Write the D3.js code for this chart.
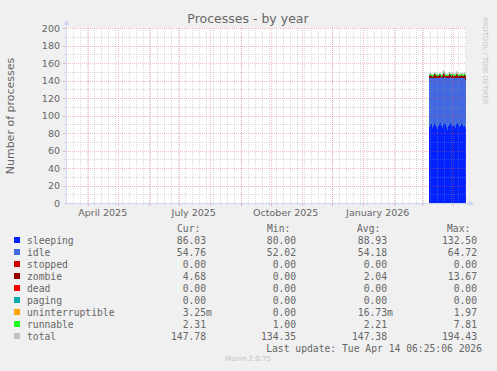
<!DOCTYPE html>
<html><head><meta charset="utf-8">
<script src="https://cdn.jsdelivr.net/npm/d3@7"></script>
<style>body{margin:0;background:#f0f0f0;overflow:hidden} svg{display:block}</style>
</head><body><svg id="c" width="497" height="371"></svg>
<script>
// ---- data ----
const seriesKeys = ["sleeping","idle","stopped","zombie","dead","paging","uninterruptible","runnable"];
const seriesColors = ["#0022ff","#4169e1","#cc0000","#990000","#ff0000","#00aaaa","#ffa500","#22ff22"];
const legendNames = ["sleeping","idle","stopped","zombie","dead","paging","uninterruptible","runnable","total"];
const legendColors = ["#0022ff","#4169e1","#cc0000","#990000","#ff0000","#00aaaa","#ffa500","#22ff22","#c0c0c0"];
const curVals = ["86.03","54.76","0.00","4.68","0.00","0.00","3.25m","2.31","147.78"];
const minVals = ["80.00","52.02","0.00","0.00","0.00","0.00","0.00","1.00","134.35"];
const avgVals = ["88.93","54.18","0.00","2.04","0.00","0.00","16.73m","2.21","147.38"];
const maxVals = ["132.50","64.72","0.00","13.67","0.00","0.00","1.97","7.81","194.43"];
const yTicks = [0,20,40,60,80,100,120,140,160,180,200];
const sleeping = [87,89,90,86,88,91,89,87,85,88,90,92,88,86,89,91,90,87,84,88,89,92,90,87,89,88,86,90,91,89,87,88,90,89,87,88,86];
const idle = [56,54,53,57,55,52,54,56,58,55,53,52,55,57,54,53,53,56,59,55,54,52,53,56,54,55,57,53,52,54,56,55,53,54,56,55,54.8];
const stopped = [0,0,0,0,0,0,0,0,0,0,0,0,0,0,0,0,0,0,0,0,0,0,0,0,0,0,0,0,0,0,0,0,0,0,0,0,0];
const zombie = [2.5,3,2,1.5,2,4,3,2,1.8,2,3,2,1.5,2,6,3,2,2.2,2,1.8,4,2,2.5,3,2,2,1.8,5,3,2,2.2,2,3,2.5,2,3,4.7];
const dead = [0,0,0,0,0,0,0,0,0,0,0,0,0,0,0,0,0,0,0,0,0,0,0,0,0,0,0,0,0,0,0,0,0,0,0,0,0];
const paging = [0,0,0,0,0,0,0,0,0,0,0,0,0,0,0,0,0,0,0,0,0,0,0,0,0,0,0,0,0,0,0,0,0,0,0,0,0];
const uninterruptible = [0.02,0.01,0.03,0.01,0.02,0.01,0.02,0.03,0.01,0.02,0.01,0.02,0.01,0.03,0.02,0.01,0.02,0.01,0.02,0.01,0.03,0.02,0.01,0.02,0.01,0.02,0.01,0.02,0.03,0.01,0.02,0.01,0.02,0.01,0.02,0.01,0.00];
const runnable = [2.1,2.3,2.0,2.4,2.2,2.1,2.3,2.2,2.0,2.3,2.1,2.2,2.4,2.1,2.2,2.3,2.0,2.2,2.1,2.3,2.2,2.1,2.4,2.2,2.0,2.3,2.2,2.1,2.2,2.3,2.1,2.2,2.4,2.1,2.2,2.3,2.3];
const total = [147.6,148.3,147,146.9,147.2,149.1,148.3,147.2,146.8,147.3,148.1,148.2,146.9,147.1,151.2,149.3,147,147.4,147.1,147.1,149.2,148.1,147.9,148.2,147,147.3,147,150.1,148.2,147.3,147.3,147.2,148.4,147.6,147.2,148.3,147.8];
const endTime = new Date(Date.UTC(2026,3,14,6,25,6));
const startTime = new Date(Date.UTC(2025,2,10,6,25,6));
const dataStart = new Date(Date.UTC(2026,2,8,6,25,6));

// ---- build ----
const series = {sleeping,idle,stopped,zombie,dead,paging,uninterruptible,runnable};
const rows = sleeping.map((_,i)=>{
  const r = {t:d3.utcDay.offset(dataStart,i), total:total[i]};
  seriesKeys.forEach(k=>r[k]=series[k][i]);
  return r;
});
const last = Object.assign({}, rows[rows.length-1], {t:d3.utcDay.offset(dataStart, rows.length)});
const rowsExt = rows.concat([last]);

const svg = d3.select("#c");
const X0=66, X1=466, Y0=203, Y1=28;
const x = d3.scaleTime().domain([startTime,endTime]).range([X0,X1]);
const y = d3.scaleLinear().domain([0,200]).range([Y0,Y1]);

svg.append("rect").attr("x",X0).attr("y",Y1).attr("width",X1-X0).attr("height",Y0-Y1).attr("fill","#fff");

// data
const stack = d3.stack().keys(seriesKeys);
const layers = stack(rowsExt);
const area = d3.area().x(d=>x(d.data.t)).y0(d=>y(d[0])).y1(d=>y(d[1])).curve(d3.curveStepAfter);
svg.append("g").selectAll("path").data(layers).join("path")
  .attr("d",area).attr("fill",(d,i)=>seriesColors[i]).attr("shape-rendering","crispEdges");
const line = d3.line().x(d=>x(d.t)).y(d=>y(d.total)).curve(d3.curveStepAfter);
svg.append("path").datum(rowsExt).attr("d",line).attr("fill","none").attr("stroke","#c0c0c0").attr("stroke-width",1);

// grid
const g = svg.append("g");
const minorCol = "rgba(150,150,150,0.35)", majorCol = "rgba(224,80,80,0.38)";
const weeks = d3.utcMonday.range(startTime,endTime);
weeks.forEach(t=>{
  const px = Math.round(x(t))+0.5;
  g.append("line").attr("x1",px).attr("x2",px).attr("y1",Y1).attr("y2",Y0+2)
    .attr("stroke",minorCol).attr("stroke-dasharray","1,1");
});
const months = d3.utcMonth.range(startTime,endTime);
months.forEach(t=>{
  const px = Math.round(x(t))+0.5;
  g.append("line").attr("x1",px).attr("x2",px).attr("y1",Y1).attr("y2",Y0)
    .attr("stroke",majorCol).attr("stroke-dasharray","1,1");
  g.append("line").attr("x1",px).attr("x2",px).attr("y1",Y0).attr("y2",Y0+3)
    .attr("stroke",majorCol);
});
d3.range(10,201,10).forEach(v=>{
  const py = Math.round(y(v))+0.5;
  const maj = v%20===0;
  g.append("line").attr("x1",X0).attr("x2",X1).attr("y1",py).attr("y2",py)
    .attr("stroke",maj?majorCol:minorCol).attr("stroke-dasharray","1,1");
  g.append("line").attr("x1",X0-(maj?3:2)).attr("x2",X0).attr("y1",py).attr("y2",py)
    .attr("stroke",maj?majorCol:minorCol);
});

// axes
const axisCol = "#cfd6f8";
svg.append("line").attr("x1",X0-2).attr("x2",X1+3).attr("y1",Y0+0.5).attr("y2",Y0+0.5).attr("stroke",axisCol);
svg.append("line").attr("x1",X0+0.5).attr("x2",X0+0.5).attr("y1",Y0+2).attr("y2",Y1-4).attr("stroke",axisCol);
svg.append("path").attr("d",`M${X1+3},${Y0-2.5}L${X1+8},${Y0+0.5}L${X1+3},${Y0+3.5}Z`).attr("fill",axisCol);
svg.append("path").attr("d",`M${X0-2.5},${Y1-3}L${X0+0.5},${Y1-8}L${X0+3.5},${Y1-3}Z`).attr("fill",axisCol);

const font = "DejaVu Sans", txtCol = "#666";
svg.append("g").selectAll("text").data(yTicks).join("text")
  .attr("x",60).attr("y",d=>y(d)+3.5).attr("text-anchor","end")
  .attr("font-family",font).attr("font-size",9.5).attr("fill",txtCol).text(d=>d);

const quarterLabels = d3.utcMonth.every(3).range(startTime,endTime)
  .filter(t=>x(t)>X0 && x(d3.utcDay.offset(t,15))<X1-20);
const fmt = d3.utcFormat("%B %Y");
svg.append("g").selectAll("text").data(quarterLabels).join("text")
  .attr("x",d=>x(d3.utcDay.offset(d,15))).attr("y",215.5).attr("text-anchor","middle")
  .attr("font-family",font).attr("font-size",9.5).attr("fill",txtCol).text(d=>fmt(d));

// titles
svg.append("text").attr("x",248).attr("y",23).attr("text-anchor","middle")
  .attr("font-family",font).attr("font-size",12.5).attr("fill",txtCol).text("Processes - by year");
svg.append("text").attr("transform","translate(14,116) rotate(-90)").attr("text-anchor","middle")
  .attr("font-family",font).attr("font-size",11).attr("fill",txtCol).text("Number of processes");
svg.append("text").attr("transform","translate(483,17) rotate(90)").attr("text-anchor","start")
  .attr("font-family",font).attr("font-size",6.8).attr("fill","#c4c4c4").text("RRDTOOL / TOBI OETIKER");
svg.append("text").attr("x",248).attr("y",361).attr("text-anchor","middle")
  .attr("font-family",font).attr("font-size",7).attr("fill","#c0c0c0").text("Munin 2.0.75");

// legend
const mono = "DejaVu Sans Mono", fs = 9.7, cw = fs*0.602;
const lg = svg.append("g").attr("font-family",mono).attr("font-size",fs).attr("fill",txtCol);
const heads = [["Cur:",177],["Min:",267],["Avg:",357],["Max:",447]];
heads.forEach(([h,hx])=>lg.append("text").attr("x",hx).attr("y",231.5).text(h));
const cols = [[curVals,206],[minVals,296],[avgVals,387],[maxVals,477]];
legendNames.forEach((n,i)=>{
  const cy = 240 + i*12;
  lg.append("rect").attr("x",14).attr("y",cy-3).attr("width",6).attr("height",6).attr("fill",legendColors[i]);
  lg.append("text").attr("x",27).attr("y",cy+3.5).text(n);
  cols.forEach(([arr,rx])=>{
    const v = arr[i];
    const ex = rx + (/[a-z]$/.test(v)?cw:0);
    lg.append("text").attr("x",ex).attr("y",cy+3.5).attr("text-anchor","end").text(v);
  });
});
lg.append("text").attr("x",482).attr("y",351.5).attr("text-anchor","end").text("Last update: Tue Apr 14 06:25:06 2026");
</script></body></html>
